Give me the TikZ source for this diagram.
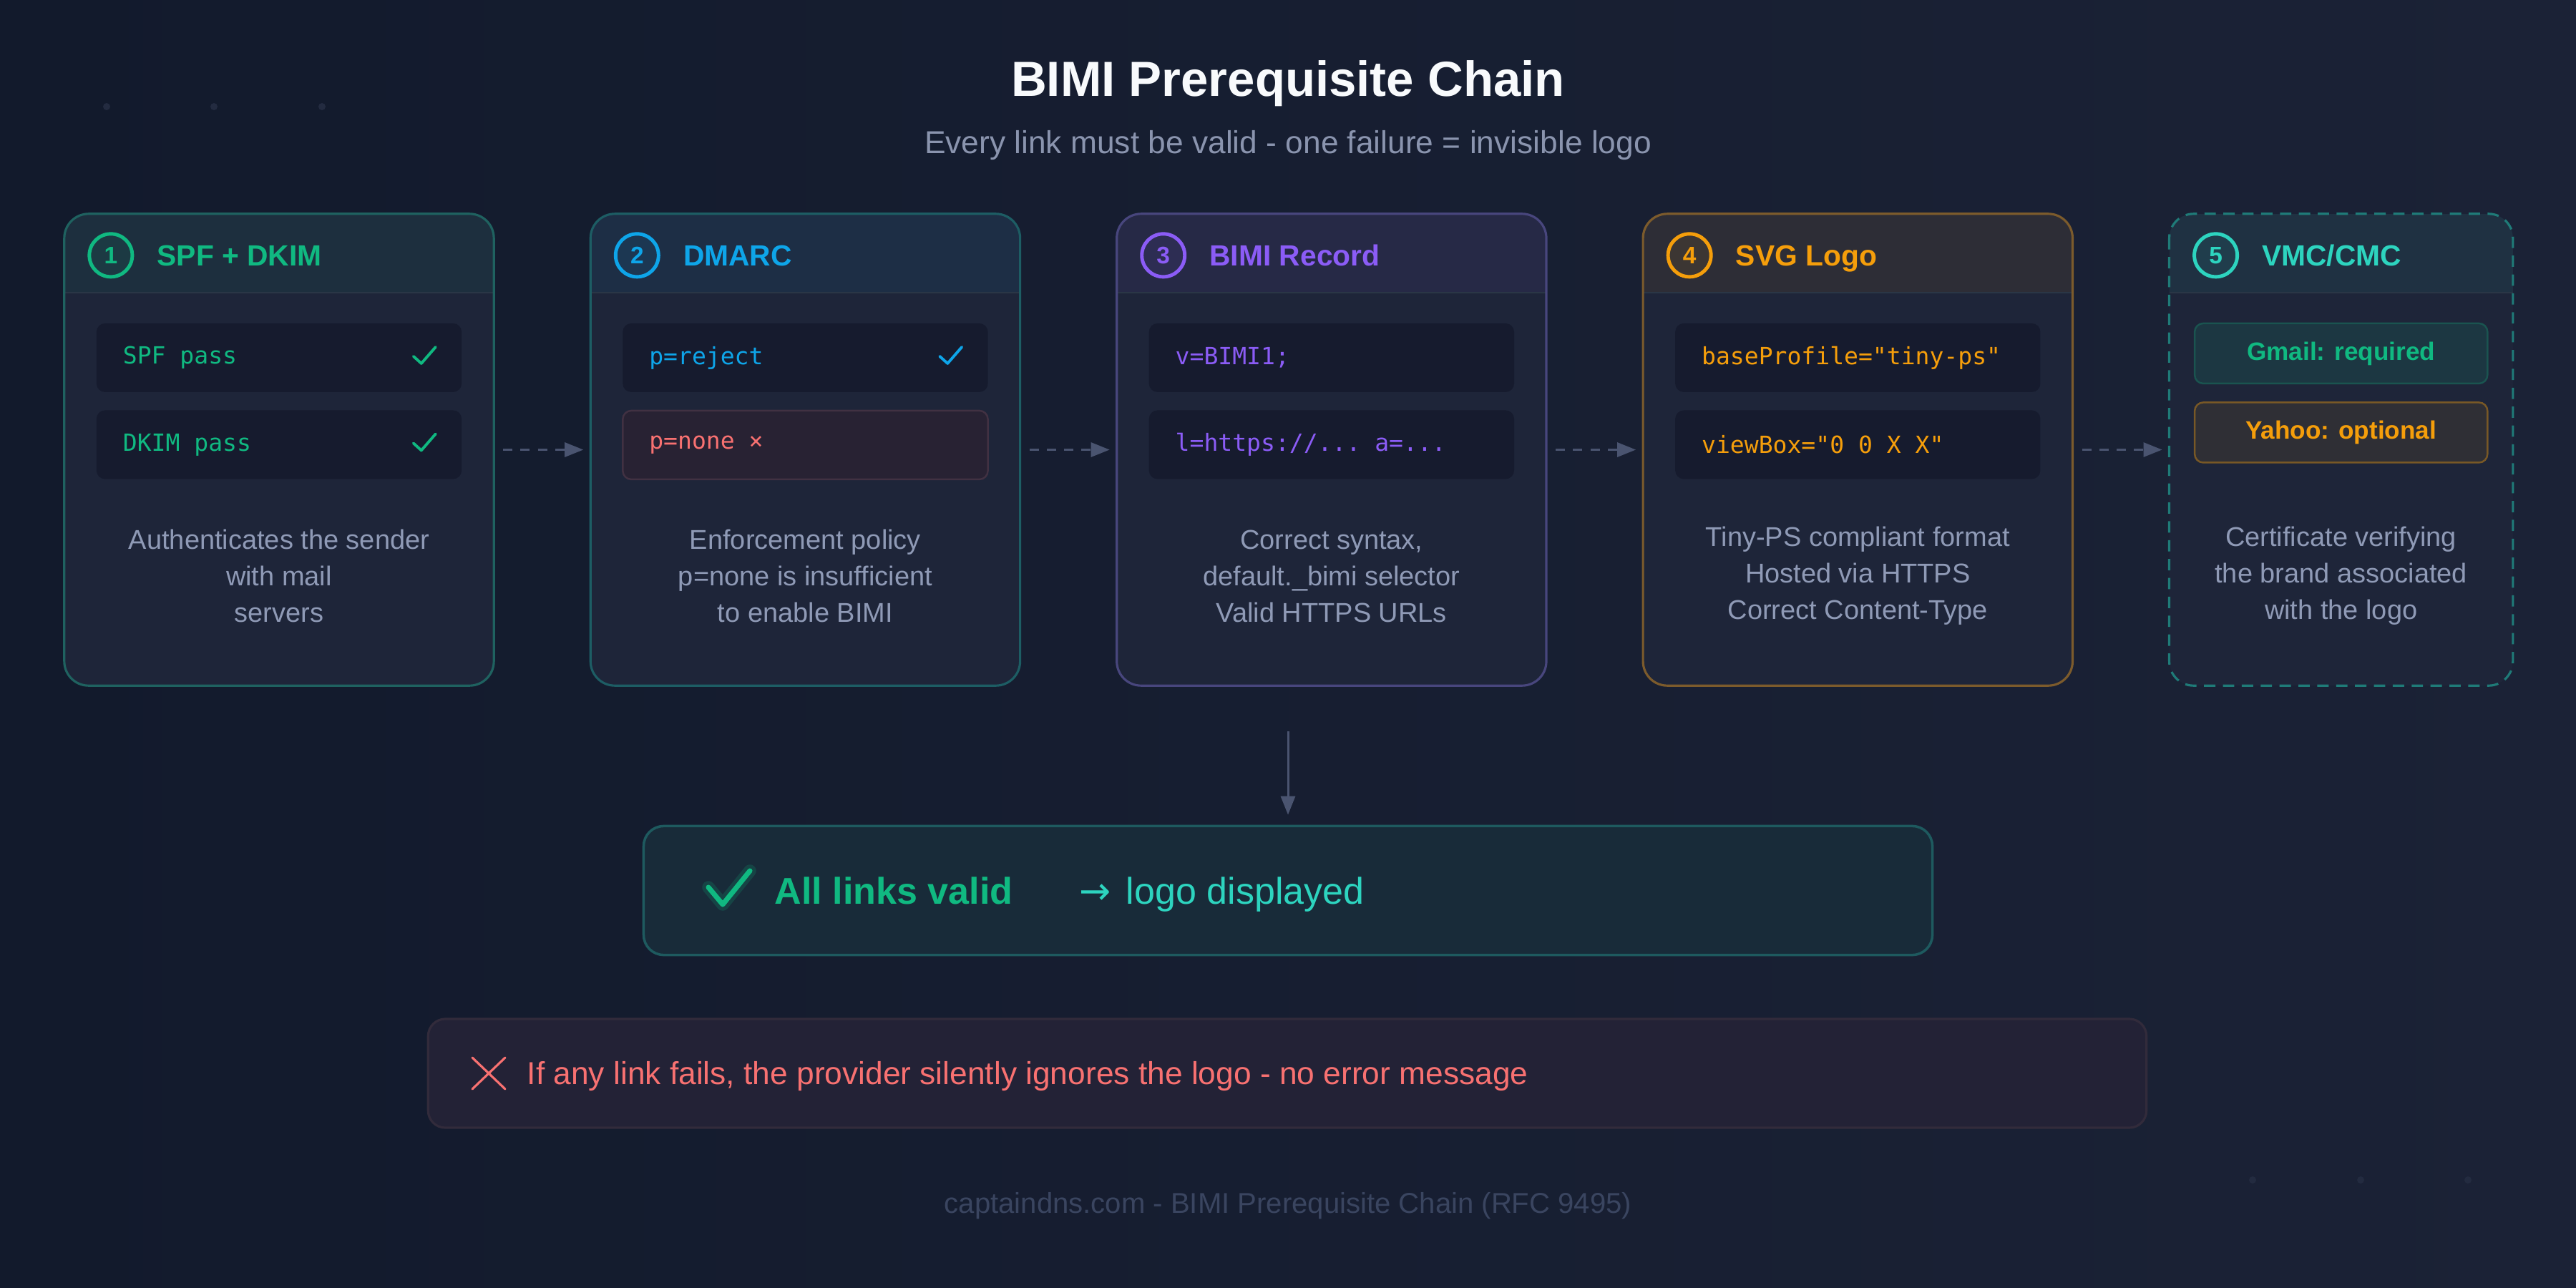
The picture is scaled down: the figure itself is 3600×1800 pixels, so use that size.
\documentclass[tikz,border=0pt]{standalone}
\usepackage{fontspec}
\setmainfont{Liberation Sans}
\setmonofont{DejaVu Sans Mono}
\newfontfamily\bimisym{DejaVu Sans}
\usetikzlibrary{positioning,arrows.meta}
\definecolor{bimibgA}{HTML}{121A2C}
\definecolor{bimibgB}{HTML}{1B2236}
\definecolor{bimicard}{HTML}{1E2539}
\definecolor{bimiinner}{HTML}{161B2E}
\definecolor{bimisep}{HTML}{2A3646}
\definecolor{bimidesc}{HTML}{8F9AB6}
\definecolor{bimisub}{HTML}{8A94AE}
\definecolor{bimifoot}{HTML}{3A4560}
\definecolor{bimititle}{HTML}{F8FAFC}
\definecolor{bimiarrow}{HTML}{4A5470}
\definecolor{bimidot}{HTML}{232B40}
\definecolor{bimigreen}{HTML}{10B981}
\definecolor{bimisky}{HTML}{0EA5E9}
\definecolor{bimipurple}{HTML}{8B5CF6}
\definecolor{bimiamber}{HTML}{F59E0B}
\definecolor{bimicyan}{HTML}{2DD4BF}
\definecolor{bimired}{HTML}{F87171}
\definecolor{bimiedgeA}{HTML}{1F6260}
\definecolor{bimiedgeB}{HTML}{1D5D64}
\definecolor{bimiedgeC}{HTML}{48467D}
\definecolor{bimiedgeD}{HTML}{7C5B2C}
\definecolor{bimiedgeE}{HTML}{1F7B78}
\definecolor{bimiokfill}{HTML}{182B39}
\definecolor{bimiokedge}{HTML}{1E5A5F}
\definecolor{bimierrfill}{HTML}{232236}
\definecolor{bimierredge}{HTML}{322B3B}
\newcommand{\bimisize}[2]{\fontsize{#1}{#2}\selectfont}
\newcommand{\bimigap}{\hspace{0.602em}}

\begin{document}
\begin{tikzpicture}[x=0.01cm,y=-0.01cm,
    card/.style={fill=bimicard,rounded corners=0.34cm,inner sep=0pt,outer sep=0pt,
                 minimum width=6cm,minimum height=6.59cm},
    num/.style={circle,draw=#1,line width=1.4pt,fill=#1!14!bimicard,text=#1,
                minimum size=0.6cm,inner sep=0pt,font=\bimisize{9.5pt}{11pt}\bfseries},
    headtxt/.style={anchor=base west,inner sep=0pt,text=#1,font=\bimisize{11.6pt}{14pt}\bfseries},
    codebox/.style={fill=bimiinner,rounded corners=0.12cm,minimum height=0.96cm,text width=4.36cm,
                    inner xsep=0.37cm,inner ysep=0pt,align=left,text=#1,
                    font=\bimisize{9.4pt}{11pt}\ttfamily},
    okmark/.style={draw=#1,line width=1.1pt,line cap=round,line join=round},
    desctxt/.style={align=center,inner sep=0pt,text=bimidesc,font=\bimisize{10.8pt}{14.5pt}},
    tagbox/.style={rounded corners=0.12cm,line width=0.7pt,minimum width=4.09cm,minimum height=0.84cm,
                   inner sep=0pt,font=\bimisize{10pt}{12pt}\bfseries},
    flowarr/.style={draw=bimiarrow,line width=0.85pt,dash pattern=on 3.7pt off 3.2pt,
                    -{Triangle[length=0.26cm,width=0.2cm]}},
    solidedge/.style={solid},
    dashedge/.style={dash pattern=on 4.5pt off 3pt},
  ]
  \useasboundingbox (0,0) rectangle (3600,1800);
  \shade[left color=bimibgA,right color=bimibgB] (0,0) rectangle (3600,1800);
  \foreach \x in {149,299,450} \fill[bimidot] (\x,149) circle[radius=0.05cm];
  \foreach \x in {3148,3299,3449} \fill[bimidot] (\x,1649) circle[radius=0.05cm];

  % title
  \node[anchor=base,inner sep=0pt,text=bimititle,font=\bimisize{19.6pt}{24pt}\bfseries] (title) at (1800,135) {BIMI Prerequisite Chain};
  \node[anchor=base,inner sep=0pt,text=bimisub,font=\bimisize{12.6pt}{15pt}] (subtitle) at (1800,215) {Every link must be valid - one failure = invisible logo};

  % the five links
  \node[card] (spf) at (390,628.5) {};
  \node[card,right=1.35cm of spf] (dmarc) {};
  \node[card,right=1.35cm of dmarc] (rec) {};
  \node[card,right=1.35cm of rec] (svg) {};
  \node[card,right=1.35cm of svg,minimum width=4.8cm] (vmc) {};

  \foreach \n/\c/\e/\s in {spf/bimigreen/bimiedgeA/solidedge,dmarc/bimisky/bimiedgeB/solidedge,
                           rec/bimipurple/bimiedgeC/solidedge,svg/bimiamber/bimiedgeD/solidedge,
                           vmc/bimicyan/bimiedgeE/dashedge}{
    \begin{scope}
      \clip[rounded corners=0.34cm] (\n.north west) rectangle (\n.south east);
      \fill[\c!7!bimicard] (\n.north west) rectangle ([yshift=-1.1cm]\n.north east);
    \end{scope}
    \draw[bimisep,line width=0.6pt] ([yshift=-1.1cm]\n.north west) -- ([yshift=-1.1cm]\n.north east);
    \draw[\e,\s,line width=0.9pt,rounded corners=0.34cm] (\n.north west) rectangle (\n.south east);
  }

  \node[num=bimigreen] (n1) at ([xshift=0.65cm,yshift=-0.58cm]spf.north west) {1};
  \node[headtxt=bimigreen] (spfh) at ([xshift=1.29cm,yshift=-0.73cm]spf.north west) {SPF + DKIM};
  \node[num=bimisky] (n2) at ([xshift=0.65cm,yshift=-0.58cm]dmarc.north west) {2};
  \node[headtxt=bimisky] (dmarch) at ([xshift=1.29cm,yshift=-0.73cm]dmarc.north west) {DMARC};
  \node[num=bimipurple] (n3) at ([xshift=0.65cm,yshift=-0.58cm]rec.north west) {3};
  \node[headtxt=bimipurple] (rech) at ([xshift=1.29cm,yshift=-0.73cm]rec.north west) {BIMI Record};
  \node[num=bimiamber] (n4) at ([xshift=0.65cm,yshift=-0.58cm]svg.north west) {4};
  \node[headtxt=bimiamber] (svgh) at ([xshift=1.29cm,yshift=-0.73cm]svg.north west) {SVG Logo};
  \node[num=bimicyan] (n5) at ([xshift=0.65cm,yshift=-0.58cm]vmc.north west) {5};
  \node[headtxt=bimicyan] (vmch) at ([xshift=1.29cm,yshift=-0.73cm]vmc.north west) {VMC/CMC};

  % code lines
  \node[codebox=bimigreen] (spfa) at ([yshift=-2.01cm]spf.north) {SPF\bimigap pass};
  \node[codebox=bimigreen,below=0.24cm of spfa] (spfb) {DKIM\bimigap pass};
  \node[codebox=bimisky] (dmarca) at ([yshift=-2.01cm]dmarc.north) {p=reject};
  \node[codebox=bimired,fill=bimired!8!bimiinner,draw=bimired!16!bimicard,line width=0.7pt,below=0.24cm of dmarca] (dmarcb) {p=none\bimigap ×};
  \node[codebox=bimipurple] (reca) at ([yshift=-2.01cm]rec.north) {v=BIMI1;};
  \node[codebox=bimipurple,below=0.24cm of reca] (recb) {l=https://...\bimigap a=...};
  \node[codebox=bimiamber] (svga) at ([yshift=-2.01cm]svg.north) {baseProfile="tiny-ps"};
  \node[codebox=bimiamber,below=0.24cm of svga] (svgb) {viewBox="0\bimigap 0\bimigap X\bimigap X"};
  \node[tagbox,fill=bimigreen!12!bimicard,draw=bimigreen!32!bimicard,text=bimigreen] (gmail) at ([yshift=-1.95cm]vmc.north) {Gmail: required};
  \node[tagbox,fill=bimiamber!8!bimicard,draw=bimiamber!42!bimicard,text=bimiamber,below=0.24cm of gmail] (yahoo) {Yahoo: optional};

  \draw[okmark=bimigreen] ([xshift=-0.68cm,yshift=0.02cm]spfa.east) -- ++(11,10) -- ++(20,-23);
  \draw[okmark=bimigreen] ([xshift=-0.68cm,yshift=0.02cm]spfb.east) -- ++(11,10) -- ++(20,-23);
  \draw[okmark=bimisky] ([xshift=-0.68cm,yshift=0.02cm]dmarca.east) -- ++(11,10) -- ++(20,-23);

  % descriptions
  \node[desctxt] (spfd) at ([yshift=-5.06cm]spf.north) {Authenticates the sender\\with mail\\servers};
  \node[desctxt] (dmarcd) at ([yshift=-5.06cm]dmarc.north) {Enforcement policy\\p=none is insufficient\\to enable BIMI};
  \node[desctxt] (recd) at ([yshift=-5.06cm]rec.north) {Correct syntax,\\default.\_bimi selector\\Valid HTTPS URLs};
  \node[desctxt] (svgd) at ([yshift=-5.06cm]svg.north) {Tiny-PS compliant format\\Hosted via HTTPS\\Correct Content-Type};
  \node[desctxt] (vmcd) at ([yshift=-5.06cm]vmc.north) {Certificate verifying\\the brand associated\\with the logo};

  \draw[flowarr,shorten <=0.13cm,shorten >=0.1cm] (spf) -- (dmarc);
  \draw[flowarr,shorten <=0.13cm,shorten >=0.1cm] (dmarc) -- (rec);
  \draw[flowarr,shorten <=0.13cm,shorten >=0.1cm] (rec) -- (svg);
  \draw[flowarr,shorten <=0.13cm,shorten >=0.1cm] (svg) -- (vmc);

  % outcome
  \node[fill=bimiokfill,draw=bimiokedge,line width=1pt,rounded corners=0.28cm,
        minimum width=18cm,minimum height=1.8cm] (result) at (1800,1244.5) {};
  \draw[draw=bimiarrow,line width=0.85pt,-{Triangle[length=0.26cm,width=0.2cm]},shorten <=0.64cm,shorten >=0.14cm]
    (rec.south -| result.north) -- (result.north);
  \draw[bimigreen,line width=5pt,opacity=0.18,line cap=round,line join=round] (990,1240) -- (1010,1264) -- (1048,1217);
  \draw[bimigreen,line width=2pt,line cap=round,line join=round] (990,1240) -- (1010,1264) -- (1048,1217);
  \node[anchor=base west,inner sep=0pt,text=bimigreen,font=\bimisize{14.8pt}{18pt}\bfseries] (allok) at (1082,1263) {All links valid};
  \node[base right=0.92cm of allok,inner sep=0pt,text=bimicyan,font=\bimisize{14.8pt}{18pt}] (shown) {{\bimisym\bimisize{15pt}{18pt}→}\hspace{0.4em}logo displayed};

  \node[fill=bimierrfill,draw=bimierredge,line width=0.9pt,rounded corners=0.24cm,
        minimum width=24cm,minimum height=1.52cm] (err) at (1799,1500) {};
  \draw[bimired,line width=0.9pt,line cap=round] (660,1478) -- (706,1522) (706,1478) -- (660,1522);
  \node[anchor=base west,inner sep=0pt,text=bimired,font=\bimisize{12.6pt}{15pt}] (errtxt) at (736,1515) {If any link fails, the provider silently ignores the logo - no error message};

  \node[anchor=base,inner sep=0pt,text=bimifoot,font=\bimisize{11.4pt}{14pt}] (foot) at (1800,1695) {captaindns.com - BIMI Prerequisite Chain (RFC 9495)};
\end{tikzpicture}
\end{document}
